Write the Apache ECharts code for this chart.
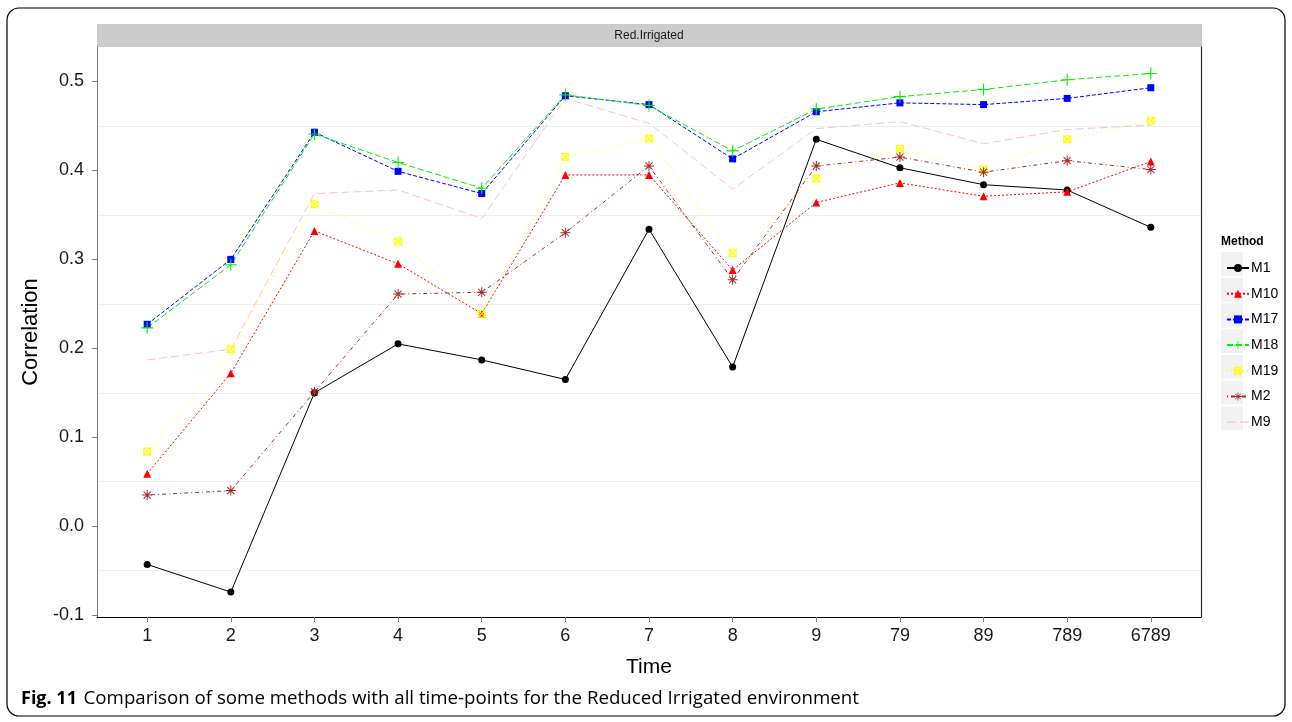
<!DOCTYPE html>
<html><head><meta charset="utf-8">
<script src="https://cdn.jsdelivr.net/npm/echarts@6/dist/echarts.min.js"></script>
<style>html,body{margin:0;padding:0;background:#fff}#c{width:1292px;height:722px}</style>
</head><body><div id="c"></div>
<script>
// ---- data ----
const categories = ['1','2','3','4','5','6','7','8','9','79','89','789','6789'];
const yTicks = [-0.1, 0, 0.1, 0.2, 0.3, 0.4, 0.5];
const yMinor = [-0.05, 0.05, 0.15, 0.25, 0.35, 0.45];
const methods = ['M1','M10','M17','M18','M19','M2','M9'];
const M1  = [-0.043, -0.074, 0.150, 0.205, 0.187, 0.165, 0.334, 0.179, 0.435, 0.403, 0.384, 0.378, 0.336];
const M10 = [0.059, 0.172, 0.332, 0.295, 0.239, 0.395, 0.395, 0.288, 0.364, 0.386, 0.371, 0.376, 0.410];
const M17 = [0.227, 0.300, 0.443, 0.399, 0.374, 0.484, 0.474, 0.413, 0.466, 0.476, 0.474, 0.481, 0.493];
const M18 = [0.223, 0.294, 0.441, 0.409, 0.380, 0.485, 0.473, 0.422, 0.469, 0.483, 0.491, 0.502, 0.509];
const M19 = [0.084, 0.199, 0.362, 0.320, 0.239, 0.415, 0.436, 0.307, 0.391, 0.424, 0.401, 0.435, 0.456];
const M2  = [0.035, 0.040, 0.151, 0.261, 0.263, 0.330, 0.405, 0.277, 0.405, 0.415, 0.398, 0.411, 0.401];
const M9  = [0.187, 0.199, 0.374, 0.378, 0.346, 0.481, 0.453, 0.379, 0.447, 0.455, 0.430, 0.446, 0.451];
const seriesValues = {M1, M10, M17, M18, M19, M2, M9};

// ---- symbol shapes ----
function bar(cx, cy, len, th, ang) {
  const c = Math.cos(ang), s = Math.sin(ang);
  const pts = [[-len/2,-th/2],[len/2,-th/2],[len/2,th/2],[-len/2,th/2]].map(([x,y]) =>
    [(cx + x*c - y*s).toFixed(3), (cy + x*s + y*c).toFixed(3)]);
  return 'M' + pts.map(p => p.join(',')).join(' L') + ' Z ';
}
const plusPath = 'path://' + bar(10,10,20,1.8,0) + bar(10,10,20,1.8,Math.PI/2);
const starPath = 'path://' + bar(10,10,20,2,0) + bar(10,10,20,2,Math.PI/2) + bar(10,10,20,2,Math.PI/4) + bar(10,10,20,2,-Math.PI/4);
const boxXPath = 'path://M0,0 L20,0 L20,20 L0,20 Z M3,3 L3,17 L17,17 L17,3 Z ' + bar(10,10,19,3,Math.PI/4) + bar(10,10,19,3,-Math.PI/4);
const longDashIcon = 'path://M0,0 L8,0 L8,1.2 L0,1.2 Z M12,0 L20,0 L20,1.2 L12,1.2 Z';

const styles = {
  M1:  {color:'#000000', type:'solid',   symbol:'circle',   size:7},
  M10: {color:'#ff0000', type:[2,2],     symbol:'triangle', size:8},
  M17: {color:'#0000ff', type:[4,2],     symbol:'rect',     size:7},
  M18: {color:'#00ee00', type:[6,3],     symbol:plusPath,   size:12},
  M19: {color:'#ffff00', type:[1,3],     symbol:boxXPath,   size:8},
  M2:  {color:'#a52a2a', type:[1,3,4,3], symbol:starPath,   size:10},
  M9:  {color:'#ffc0cb', type:[8,4],     symbol:'none',     size:0}
};

const series = methods.map(name => {
  const st = styles[name];
  return {
    name, type:'line',
    data: seriesValues[name].map((v,i) => [i+1, v]),
    symbol: st.symbol, symbolSize: st.size, showSymbol: st.symbol !== 'none',
    lineStyle: {color: st.color, width: 1, type: st.type},
    itemStyle: {color: st.color},
    emphasis: {disabled: true},
    animation: false
  };
});

const FONT = "'Liberation Sans', Arial, sans-serif";
const legendTop = 252, legendStep = 25.7;
const graphics = [
  {type:'rect', shape:{x:7, y:8, width:1278, height:708, r:12}, style:{fill:'none', stroke:'#000', lineWidth:1.2}, silent:true},
  {type:'rect', shape:{x:97, y:24, width:1105, height:23}, style:{fill:'#cccccc'}, silent:true},
  {type:'text', x:649, y:36, style:{text:'Red.Irrigated', font:'12px ' + FONT, fill:'#1a1a1a', align:'center', verticalAlign:'middle'}},
  {type:'text', x:1221, y:242, style:{text:'Method', font:'bold 12px ' + FONT, fill:'#000', verticalAlign:'middle'}},
  {type:'text', x:21, y:699, style:{
    text:'{b|Fig. 11}  {r|Comparison of some methods with all time-points for the Reduced Irrigated environment}',
    verticalAlign:'middle',
    rich:{b:{font:"bold 18px 'Open Sans', sans-serif", fill:'#000'}, r:{font:"18.7px 'Open Sans', sans-serif", fill:'#000'}}
  }}
];
methods.forEach((m,i) => graphics.push({type:'rect', z:-1, shape:{x:1221, y:legendTop + i*legendStep, width:22, height:24}, style:{fill:'#f2f2f2'}, silent:true}));

const chart = echarts.init(document.getElementById('c'), null, {renderer:'canvas'});
chart.setOption({
  animation:false,
  backgroundColor:'#fff',
  grid:{left:97, top:47, right:91, bottom:105, containLabel:false},
  xAxis:{
    type:'value', min:0.4, max:13.6,
    name:'Time', nameLocation:'middle', nameGap:40,
    nameTextStyle:{fontSize:21, color:'#000', fontFamily:FONT},
    axisLine:{show:true, onZero:false, lineStyle:{color:'#000', width:1.2}},
    axisTick:{show:true, customValues:categories.map((c,i)=>i+1), length:5, lineStyle:{color:'#7f7f7f'}},
    axisLabel:{customValues:categories.map((c,i)=>i+1), formatter:v => categories[Math.round(v)-1], fontSize:18, color:'#1a1a1a', fontFamily:FONT, margin:10},
    splitLine:{show:false}
  },
  yAxis:[{
    type:'value', min:-0.1021, max:0.5388, position:'left',
    name:'Correlation', nameLocation:'middle', nameGap:50, nameRotate:90,
    nameTextStyle:{fontSize:22, color:'#000', fontFamily:FONT},
    axisLine:{show:true, onZero:false, lineStyle:{color:'#7f7f7f', width:1}},
    axisTick:{show:true, customValues:yTicks, length:5, lineStyle:{color:'#7f7f7f'}},
    axisLabel:{customValues:yTicks, formatter:v => v.toFixed(1), fontSize:18, color:'#1a1a1a', fontFamily:FONT, margin:13},
    splitLine:{show:false}
  },{
    type:'value', min:-0.1021, max:0.5388, position:'right',
    axisLine:{show:true, onZero:false, lineStyle:{color:'#333', width:1.2}},
    axisTick:{show:false, customValues:yMinor},
    axisLabel:{show:false, customValues:yMinor},
    splitLine:{show:true, lineStyle:{color:'#efefef', width:1}}
  }],
  legend:{
    data: methods.map(m => m === 'M9' ? {name:m, icon:longDashIcon} : {name:m}),
    orient:'vertical', left:1221, top:legendTop + 4, itemWidth:22, itemHeight:10, itemGap:11.7,
    symbolKeepAspect:true,
    textStyle:{fontSize:14, color:'#000', fontFamily:FONT, padding:[0,0,0,-3]},
    selectedMode:false
  },
  graphic:graphics,
  series
});
</script></body></html>
